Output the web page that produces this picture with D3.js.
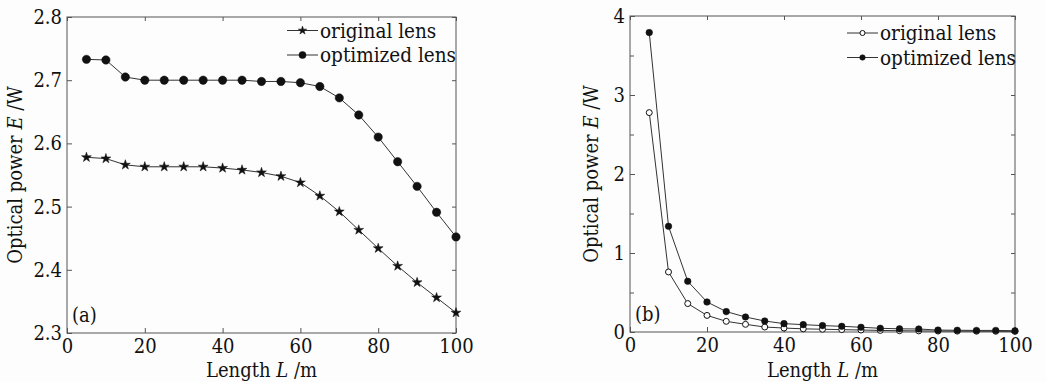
<!DOCTYPE html>
<html>
<head>
<meta charset="utf-8">
<script src="https://cdn.jsdelivr.net/npm/d3@7"></script>
<style>
  html, body { margin: 0; padding: 0; background: #fdfdfd; }
  svg { display: block; }
  svg text { font-family: "DejaVu Serif Condensed", "DejaVu Serif", serif; font-stretch: condensed; }
</style>
</head>
<body>
<svg id="chart" width="1046" height="382"></svg>
<script>
// lengths (m) shared by both panels
const lengths = [5,10,15,20,25,30,35,40,45,50,55,60,65,70,75,80,85,90,95,100];

// panel (a)
const aOriginal  = [2.578,2.576,2.566,2.563,2.563,2.563,2.563,2.561,2.558,2.554,2.548,2.538,2.517,2.492,2.463,2.434,2.406,2.380,2.356,2.332];
const aOptimized = [2.733,2.732,2.705,2.700,2.700,2.700,2.700,2.700,2.700,2.698,2.698,2.696,2.690,2.672,2.645,2.610,2.571,2.532,2.491,2.452];
const aYTicks = [2.3,2.4,2.5,2.6,2.7,2.8];

// panel (b)
const bOriginal  = [2.777,0.76,0.36,0.21,0.135,0.097,0.063,0.05,0.04,0.035,0.03,0.025,0.02,0.016,0.014,0.012,0.011,0.010,0.009,0.008];
const bOptimized = [3.79,1.338,0.642,0.38,0.258,0.19,0.139,0.106,0.093,0.081,0.072,0.06,0.047,0.04,0.038,0.024,0.022,0.02,0.02,0.016];
const bYTicks = [0,1,2,3,4];
const bYMinor = [0.5,1.5,2.5,3.5];

const xTicks = [0,20,40,60,80,100];
const legendNames = ["original lens", "optimized lens"];

const svg = d3.select("#chart");
const frameColor = "#555";
const lineColor = "#333";

function styleAxis(g){
    g.attr("font-family", null).attr("font-size", 20);
    g.select(".domain").remove();
    g.selectAll(".tick line").attr("stroke", frameColor);
    g.selectAll(".tick text").attr("fill", "#111");
}

function drawPanel(p){
    let chart = svg.append("g");
    let x = d3.scaleLinear([0,100], [p.left, p.right]);
    let y = d3.scaleLinear(p.yDomain, [p.bottom, p.top]);

    // frame
    chart.append("rect")
        .attr("x", p.left).attr("y", p.top)
        .attr("width", p.right - p.left).attr("height", p.bottom - p.top)
        .attr("fill", "none").attr("stroke", frameColor).attr("stroke-width", 1);

    // axes, ticks pointing inward
    chart.append("g")
        .attr("transform", `translate(0,${p.bottom})`)
        .call(d3.axisBottom(x).tickValues(xTicks).tickSizeInner(-5).tickSizeOuter(0).tickPadding(6))
        .call(styleAxis);
    chart.append("g")
        .attr("transform", `translate(${p.left},0)`)
        .call(d3.axisLeft(y).tickValues(p.yTicks).tickFormat(p.yFormat).tickSizeInner(-5).tickSizeOuter(0).tickPadding(5))
        .call(styleAxis);
    // mirror ticks top / right
    chart.append("g")
        .attr("transform", `translate(0,${p.top})`)
        .call(d3.axisTop(x).tickValues(xTicks).tickSizeInner(-4).tickSizeOuter(0).tickFormat(""))
        .call(styleAxis);
    chart.append("g")
        .attr("transform", `translate(${p.right},0)`)
        .call(d3.axisRight(y).tickValues(p.yTicks.concat(p.yMinor)).tickSizeInner(-4).tickSizeOuter(0).tickFormat(""))
        .call(styleAxis);
    if (p.yMinor.length){
        chart.append("g")
            .attr("transform", `translate(${p.left},0)`)
            .call(d3.axisLeft(y).tickValues(p.yMinor).tickSizeInner(-4).tickSizeOuter(0).tickFormat(""))
            .call(styleAxis);
    }

    // axis titles
    chart.append("text")
        .attr("x", (p.left + p.right) / 2).attr("y", 377)
        .attr("text-anchor", "middle").attr("font-size", 20).attr("fill", "#111")
        .call(t => {
            t.append("tspan").text("Length ");
            t.append("tspan").attr("font-style", "italic").text("L");
            t.append("tspan").text(" /m");
        });
    chart.append("text")
        .attr("transform", `translate(${p.titleX},${(p.top + p.bottom) / 2}) rotate(-90)`)
        .attr("text-anchor", "middle").attr("font-size", 20).attr("fill", "#111")
        .call(t => {
            t.append("tspan").text("Optical power ");
            t.append("tspan").attr("font-style", "italic").text("E");
            t.append("tspan").text(" /W");
        });

    // panel tag
    chart.append("text")
        .attr("x", p.left + 5).attr("y", p.bottom - 11)
        .attr("font-size", 20).attr("fill", "#111").text(p.tag);

    // series
    let line = d3.line().x((d, i) => x(lengths[i])).y(d => y(d));
    p.series.forEach((s, k) => {
        chart.append("path")
            .attr("d", line(s.values))
            .attr("fill", "none").attr("stroke", lineColor).attr("stroke-width", 1);
        chart.append("g").selectAll("path")
            .data(s.values)
            .join("path")
            .attr("transform", (d, i) => `translate(${x(lengths[i])},${y(d)})`)
            .attr("d", d3.symbol(s.symbol, s.size)())
            .attr("fill", s.fill).attr("stroke", "#111").attr("stroke-width", s.strokeW);

        // legend row
        let ly = p.legendY + k * 24.5;
        chart.append("line")
            .attr("x1", p.legendX).attr("x2", p.legendX + 31)
            .attr("y1", ly).attr("y2", ly)
            .attr("stroke", lineColor).attr("stroke-width", 1);
        chart.append("path")
            .attr("transform", `translate(${p.legendX + 15.5},${ly})`)
            .attr("d", d3.symbol(s.symbol, s.legendSize)())
            .attr("fill", s.fill).attr("stroke", "#111").attr("stroke-width", s.strokeW);
        chart.append("text")
            .attr("x", p.legendX + 33).attr("y", ly + 7)
            .attr("font-size", 20.5).attr("fill", "#111").text(legendNames[k]);
    });
}

drawPanel({
    left: 67, right: 456, top: 17, bottom: 333,
    yDomain: [2.3, 2.8], yTicks: aYTicks, yMinor: [], yFormat: d3.format(".1f"),
    titleX: 22, tag: "(a)", legendX: 287, legendY: 30.5,
    series: [
        {values: aOriginal, symbol: d3.symbolStar, size: 30, fill: "#111", strokeW: 0.5, legendSize: 22},
        {values: aOptimized, symbol: d3.symbolCircle, size: 55, fill: "#111", strokeW: 0.5, legendSize: 40}
    ]
});

drawPanel({
    left: 630, right: 1015, top: 16, bottom: 332,
    yDomain: [0, 4], yTicks: bYTicks, yMinor: bYMinor, yFormat: d3.format("d"),
    titleX: 598, tag: "(b)", legendX: 847, legendY: 33,
    series: [
        {values: bOriginal, symbol: d3.symbolCircle, size: 28, fill: "#fff", strokeW: 1, legendSize: 20},
        {values: bOptimized, symbol: d3.symbolCircle, size: 34, fill: "#111", strokeW: 0.5, legendSize: 24}
    ]
});
</script>
</body>
</html>
